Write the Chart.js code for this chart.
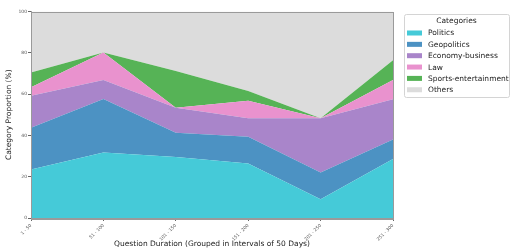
<!DOCTYPE html>
<html>
<head>
<meta charset="utf-8">
<script src="https://cdn.jsdelivr.net/npm/chart.js@4"></script>
<style>
  html, body { margin: 0; padding: 0; background: #fff; }
  #wrap { width: 510px; height: 251px; }
</style>
</head>
<body>
<div id="wrap"><canvas id="myChart" width="510" height="251"></canvas></div>
<script>
const ctx = document.getElementById('myChart').getContext('2d');

const labelDurasi = ['1 - 50', '51 - 100', '101 - 150', '151 - 200', '201 - 250', '251 - 300'];

const politics      = [23.5, 31.7, 29.6, 26.4,  9.1, 28.6];
const geopolitics   = [20.2, 25.9, 11.7, 12.9, 12.9,  9.4];
const economy       = [15.5,  9.2, 12.1,  9.0, 26.3, 19.5];
const law           = [ 4.1, 13.3,  0.0,  8.5,  0.0,  9.3];
const sports        = [ 7.1,  0.0, 17.8,  4.7,  0.0,  9.6];
const others        = [29.6, 19.9, 28.8, 38.5, 51.7, 23.6];

const kategori = ['Politics', 'Geopolitics', 'Economy-business', 'Law', 'Sports-entertainment', 'Others'];
const warna = ['#45cad8', '#4c92c3', '#a985ca', '#e992ce', '#56b356', '#dcdcdc'];
const nilai = [politics, geopolitics, economy, law, sports, others];

const fontFamily = "'DejaVu Sans', sans-serif";

const data = {
    labels: labelDurasi,
    datasets: kategori.map((nama, i) => ({
        label: nama,
        data: nilai[i],
        backgroundColor: warna[i],
        borderColor: warna[i],
        borderWidth: 0,
        pointRadius: 0,
        fill: i === 0 ? 'origin' : '-1',
        tension: 0
    }))
};

// bingkai area plot + legenda di sebelah kanan
const kotakPlugin = {
    id: 'kotak',
    afterDatasetsDraw(chart) {
        const a = chart.chartArea;
        const c = chart.ctx;
        c.save();
        c.strokeStyle = '#9a9a9a';
        c.lineWidth = 1;
        c.strokeRect(Math.round(a.left) + 0.5, Math.round(a.top) + 0.5,
            Math.round(a.right - a.left), Math.round(a.bottom - a.top));
        c.restore();
    },
    afterDraw(chart) {
        const c = chart.ctx;
        const x0 = chart.chartArea.right + 11;
        const y0 = 14;
        const w = 105, h = 83;
        c.save();
        c.fillStyle = '#fff';
        c.strokeStyle = '#d4d4d4';
        c.lineWidth = 1;
        c.beginPath();
        c.roundRect(x0 + 0.5, y0 + 0.5, w, h, 2);
        c.fill();
        c.stroke();

        c.font = '7.5px ' + fontFamily;
        c.textBaseline = 'middle';
        c.fillStyle = '#222';
        c.textAlign = 'center';
        c.fillText('Categories', x0 + w / 2, y0 + 7);

        c.textAlign = 'left';
        chart.data.datasets.forEach((ds, i) => {
            const yy = y0 + 19 + i * 11.35;
            c.fillStyle = ds.backgroundColor;
            c.fillRect(x0 + 3, yy - 2.5, 15, 5);
            c.fillStyle = '#222';
            c.fillText(ds.label, x0 + 24, yy + 0.5);
        });
        c.restore();
    }
};

const config = {
    type: 'line',
    data: data,
    plugins: [kotakPlugin],
    options: {
        responsive: false,
        animation: false,
        layout: { padding: { left: 0, right: 117, top: 11.5, bottom: 0 } },
        plugins: {
            tooltip: { enabled: false },
            legend: { display: false }
        },
        scales: {
            x: {
                offset: false,
                grid: { display: true, drawOnChartArea: false, tickLength: 3, color: '#666' },
                border: { display: true, color: '#9a9a9a' },
                ticks: {
                    minRotation: 45, maxRotation: 45, padding: 2,
                    color: '#555',
                    font: { family: fontFamily, size: 4.5 }
                },
                title: {
                    display: true,
                    text: 'Question Duration (Grouped in Intervals of 50 Days)',
                    color: '#222',
                    font: { family: fontFamily, size: 7.5 },
                    padding: { top: 0, bottom: 2 }
                },
                afterFit(axis) { axis.height = 33; }
            },
            y: {
                stacked: true,
                min: 0,
                max: 100,
                grid: { display: true, drawOnChartArea: false, tickLength: 3, color: '#666' },
                border: { display: true, color: '#9a9a9a' },
                ticks: {
                    stepSize: 20, padding: 1,
                    color: '#555',
                    font: { family: fontFamily, size: 4.5 }
                },
                title: {
                    display: true,
                    text: 'Category Proportion (%)',
                    color: '#222',
                    font: { family: fontFamily, size: 7.5 },
                    padding: { top: 5, bottom: 2 }
                },
                afterFit(axis) { axis.width = 31; }
            }
        }
    }
};

const myChart = new Chart(ctx, config);
</script>
</body>
</html>
